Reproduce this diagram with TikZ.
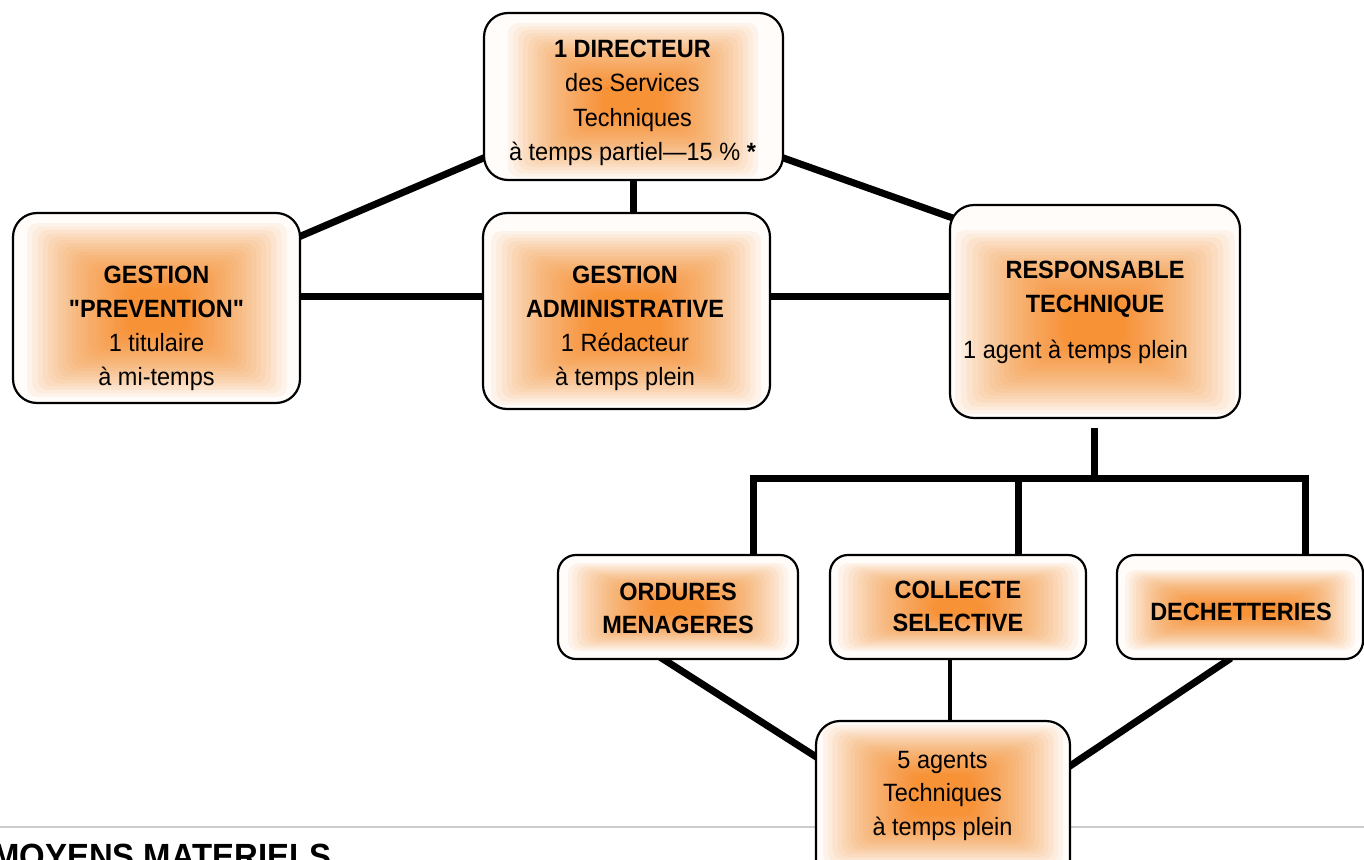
\documentclass[tikz,border=0pt]{standalone}
\usepackage{fontspec}
\setmainfont[FakeStretch=0.94,Ligatures=TeXOff]{Liberation Sans}
\usetikzlibrary{calc}
\pgfdeclarelayer{background}
\pgfsetlayers{background,main}
\definecolor{boxbg}{RGB}{255,252,250}
\definecolor{glowc}{RGB}{247,140,40}
\definecolor{rulegray}{RGB}{204,204,204}
\newcommand\boxlines[1]{\begin{tabular}[t]{@{}c@{}}#1\end{tabular}}
\newcommand\glowbox[6]{\foreach \k in {0,...,29}{\pgfmathsetmacro\gs{(\k/29)^1.6}\fill[glowc,opacity=0.075,rounded corners=10pt] ({#1-#3-#5*\gs},{#2-#4-#6*\gs}) rectangle ({#1+#3+#5*\gs},{#2+#4+#6*\gs});}}
\begin{document}
\begin{tikzpicture}[x=1pt,y=-1pt,
  orgbox/.style={draw=black, line width=2.2pt, fill=boxbg, rounded corners=24pt, inner sep=0pt},
  smallbox/.style={orgbox, rounded corners=18pt},
  conn/.style={line width=7pt, line join=miter},
  thinconn/.style={line width=4.5pt},
  lbl/.style={inner sep=0pt, anchor=base, font=\fontsize{25}{34}\selectfont}]
\useasboundingbox (0,0) rectangle (1364,859);
\clip (0,0) rectangle (1364,859);

% boxes
\node[orgbox, minimum width=299pt, minimum height=167pt] (dir) at (633.5,96.5) {};
\node[orgbox, minimum width=287pt, minimum height=190pt] (prev) at (156.5,308) {};
\node[orgbox, minimum width=287pt, minimum height=196pt] (adm) at (626.5,311) {};
\node[orgbox, minimum width=290pt, minimum height=213pt] (resp) at (1095,311.5) {};
\node[smallbox, minimum width=240pt, minimum height=104pt] (ord) at (678,607) {};
\node[smallbox, minimum width=256pt, minimum height=104pt] (col) at (958,607) {};
\node[smallbox, minimum width=246pt, minimum height=104pt] (dec) at (1240,607) {};
\node[orgbox, minimum width=254pt, minimum height=170pt] (agt) at (943,806) {};

\begin{pgfonlayer}{background}
\fill[white] (0,0) rectangle (1364,859);
\draw[rulegray, line width=2pt] (0,827) -- (1364,827);
\draw[conn] ($(dir.south west)+(6,-25.4)$) -- ($(prev.north east)+(-6,26.6)$);
\draw[conn] (dir.south) -- (dir.south |- adm.north);
\draw[conn] ($(dir.south east)+(-6,-25)$) -- ($(resp.north west)+(12,17)$);
\draw[conn] ($(prev.east)+(-4,-12)$) -- ($(adm.west)+(4,-15)$);
\draw[conn] ($(adm.east)+(-4,-15)$) -- ($(resp.west)+(4,-15.5)$);
\coordinate (bus) at (1094,478);
\coordinate (colup) at ($(col.north)+(60,5)$);
\coordinate (coldown) at ($(col.south)+(-8,-5)$);
\draw[conn] ($(resp.south)+(-1,9)$) -- ($(bus)+(0,3)$);
\draw[conn] ($(ord.north)+(75,5)$) |- (bus) -| ($(dec.north)+(65,5)$);
\draw[conn] (colup) -- (colup |- bus);
\draw[thinconn] (coldown) -- (coldown |- agt.north);
\draw[conn] ($(ord.south)+(-18,-3)$) -- ($(agt.north west)+(6,40)$);
\draw[conn] ($(dec.south)+(-9,-2)$) -- ($(agt.north east)+(-4,48)$);
\end{pgfonlayer}

% glows
\glowbox{633}{100}{30}{15}{95}{62}
\glowbox{157}{310}{30}{22}{100}{65}
\glowbox{626}{318}{35}{25}{100}{62}
\glowbox{1095}{322}{30}{22}{110}{70}
\glowbox{678}{607}{25}{8}{85}{36}
\glowbox{958}{607}{25}{8}{95}{36}
\glowbox{1240}{610}{45}{5}{70}{35}
\glowbox{943}{795}{30}{20}{90}{50}

% texts
\node[lbl] (tdir) at (632.5,58) {\boxlines{\textbf{1 DIRECTEUR}\\des Services\\Techniques\\à temps partiel—15 \% \textbf{*}}};
\node[lbl] (tprev) at (156.5,283) {\boxlines{\textbf{GESTION}\\\textbf{"PREVENTION"}\\1 titulaire\\à mi-temps}};
\node[lbl] (tadm) at (625,283) {\boxlines{\textbf{GESTION}\\\textbf{ADMINISTRATIVE}\\1 Rédacteur\\à temps plein}};
\node[lbl] (tresp) at (1095,278) {\boxlines{\textbf{RESPONSABLE}\\\textbf{TECHNIQUE}}};
\node[lbl, anchor=base west] (tresp2) at (963,358) {1 agent à temps plein};
\node[lbl, font=\fontsize{25}{33}\selectfont] (tord) at (678,600) {\boxlines{\textbf{ORDURES}\\\textbf{MENAGERES}}};
\node[lbl, font=\fontsize{25}{33}\selectfont] (tcol) at (958,598) {\boxlines{\textbf{COLLECTE}\\\textbf{SELECTIVE}}};
\node[lbl] (tdec) at (1241,620) {\textbf{DECHETTERIES}};
\node[lbl, font=\fontsize{25}{33.5}\selectfont] (tagt) at (942.5,768) {\boxlines{5 agents\\Techniques\\à temps plein}};
\node[inner sep=0pt, anchor=base west, font=\fontsize{35}{40}\selectfont\bfseries] (moy) at (-8,868) {MOYENS MATERIELS};
\end{tikzpicture}
\end{document}
